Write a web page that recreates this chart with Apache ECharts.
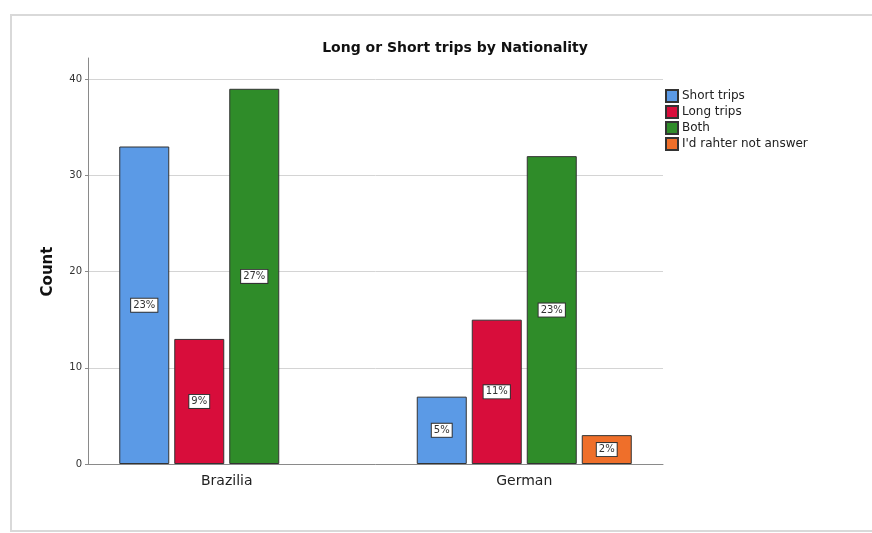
<!DOCTYPE html>
<html>
<head>
<meta charset="utf-8">
<script src="https://cdn.jsdelivr.net/npm/echarts@6/dist/echarts.min.js"></script>
<style>
  html, body { margin: 0; padding: 0; background: #fff; }
  #main { width: 872px; height: 533px; }
</style>
</head>
<body>
<div id="main"></div>
<script>
// data
var categories = ['Brazilia', 'German']
var seriesNames = ['Short trips', 'Long trips', 'Both', "I'd rahter not answer"]
var shortTrips = [33, 7]
var longTrips = [13, 15]
var both = [39, 32]
var noAnswer = [null, 3]
var shortPct = ['23%', '5%']
var longPct = ['9%', '11%']
var bothPct = ['27%', '23%']
var noAnswerPct = ['', '2%']
var yTicks = [0, 10, 20, 30, 40]

var colors = ['#5b9ae6', '#d80d3b', '#2f8c29', '#ef6f2a']
var font = 'DejaVu Sans'

function makeSeries (idx, values, pct) {
  return {
    name: seriesNames[idx],
    type: 'bar',
    xAxisIndex: 1,
    yAxisIndex: 1,
    barWidth: 50,
    barGap: '10%',
    animation: false,
    data: values,
    itemStyle: {
      color: colors[idx],
      borderColor: '#333',
      borderWidth: 1
    },
    label: {
      show: true,
      position: 'inside',
      formatter: function (p) { return pct[p.dataIndex] },
      backgroundColor: '#fff',
      borderColor: '#333',
      borderWidth: 1,
      padding: [2, 2, 1, 2],
      fontSize: 10,
      fontFamily: font,
      color: '#333'
    }
  }
}

var option = {
  backgroundColor: '#fff',
  title: { //标题
    text: 'Long or Short trips by Nationality',
    left: 450,
    textAlign: 'center',
    top: 36,
    textStyle: { fontSize: 14, fontWeight: 'bold', color: '#111', fontFamily: font }
  },
  legend: { //图例
    data: seriesNames,
    orient: 'vertical',
    left: 665,
    top: 89,
    padding: 0,
    icon: 'rect',
    itemWidth: 12,
    itemHeight: 12,
    itemGap: 2,
    textStyle: { fontSize: 12, lineHeight: 12, color: '#222', fontFamily: font, padding: [0, 0, 0, -1] }
  },
  graphic: [{
    type: 'rect',
    shape: { x: 11, y: 15, width: 880, height: 516 },
    style: { fill: 'none', stroke: '#d9d9d9', lineWidth: 2 },
    silent: true
  }],
  grid: [
    { left: 88, right: 209, top: 79, bottom: 69 }, // gridlines + labels
    { left: 78, right: 199, top: 58, bottom: 69 } // bars
  ],
  xAxis: [
    {
      gridIndex: 0,
      type: 'category',
      data: categories,
      axisLine: { lineStyle: { color: '#8a8a8a', width: 1 } },
      axisTick: { show: false },
      axisLabel: { show: false }
    },
    {
      gridIndex: 1,
      type: 'category',
      data: categories,
      axisLine: { show: false },
      axisTick: { show: false },
      axisLabel: { margin: 10, fontSize: 14, color: '#222', fontFamily: font }
    }
  ],
  yAxis: [
    {
      gridIndex: 0,
      type: 'value',
      min: 0,
      max: 40,
      interval: 10,
      name: 'Count',
      nameLocation: 'middle',
      nameGap: 32,
      nameTextStyle: { fontSize: 15, fontWeight: 'bold', color: '#111', fontFamily: font },
      axisLine: { show: false },
      axisTick: { show: true, length: 3, lineStyle: { color: '#8a8a8a' } },
      axisLabel: {
        margin: 6,
        fontSize: 10,
        color: '#333',
        fontFamily: font,
        formatter: function (v) { return yTicks.indexOf(v) >= 0 ? String(v) : '' }
      },
      splitLine: { lineStyle: { color: '#d4d4d4', width: 1 } }
    },
    {
      gridIndex: 1,
      type: 'value',
      min: 0,
      max: 42.2,
      offset: -10,
      axisLine: { show: true, lineStyle: { color: '#8a8a8a', width: 1 } },
      axisTick: { show: false },
      axisLabel: { show: false },
      splitLine: { show: false }
    }
  ],
  series: [
    makeSeries(0, shortTrips, shortPct),
    makeSeries(1, longTrips, longPct),
    makeSeries(2, both, bothPct),
    makeSeries(3, noAnswer, noAnswerPct)
  ]
}

var myChart = echarts.init(document.getElementById('main'))
myChart.setOption(option)
</script>
</body>
</html>
